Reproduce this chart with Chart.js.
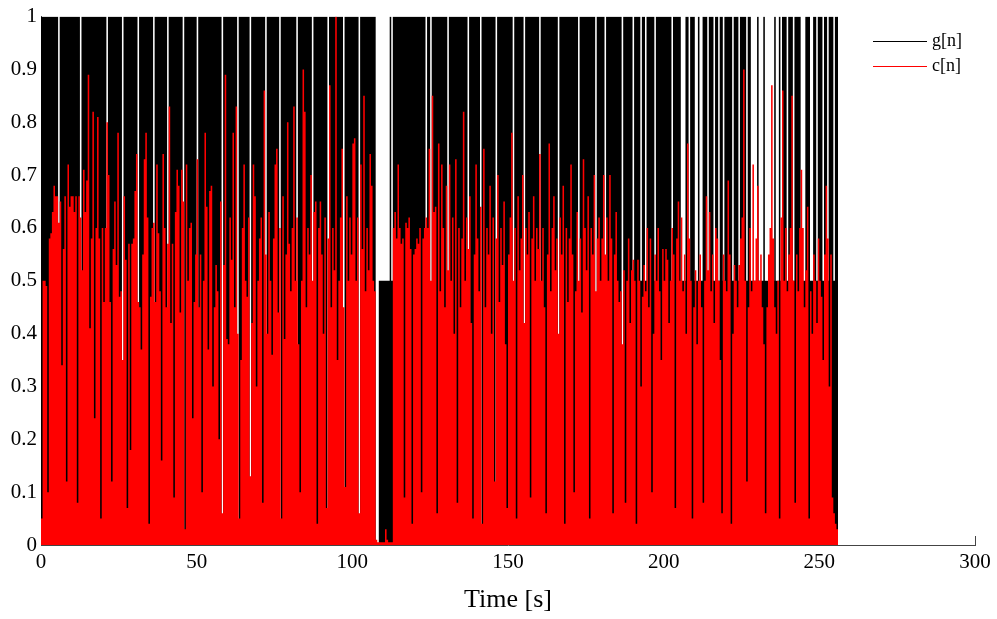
<!DOCTYPE html>
<html>
<head>
<meta charset="utf-8">
<title>g[n] and c[n]</title>
<script src="https://cdn.jsdelivr.net/npm/chart.js@4.4.1/dist/chart.umd.min.js"></script>
<style>
  html, body { margin: 0; padding: 0; background: #fff; }
  #plot { display: block; }
</style>
</head>
<body>
<canvas id="plot" width="997" height="619"></canvas>
<script>
// both signals sampled every 0.5 s
const sampleStep = 0.5;

const xTicks = [0, 50, 100, 150, 200, 250, 300];
const yTicks = [0, 0.1, 0.2, 0.3, 0.4, 0.5, 0.6, 0.7, 0.8, 0.9, 1];

// g[n], one row = 10 s
const gSignal = [
    1,1,1,1,1,1,1,1,1,1,1,0,1,1,1,1,1,1,1,1,
    1,1,1,1,1,0,1,1,1,1,1,1,1,1,1,1,1,1,1,1,
    1,1,0,1,1,1,1,1,1,1,1,1,0,1,1,1,1,1,1,1,
    1,1,0,1,1,1,1,1,1,1,1,1,0,1,1,1,1,1,1,1,
    1,0,1,1,1,1,1,1,1,1,1,0,1,1,1,1,1,1,1,1,
    0,1,1,1,1,1,1,1,1,1,1,1,1,1,1,1,0,1,1,1,
    1,1,1,1,1,1,0,1,1,1,1,1,1,1,0,1,1,1,1,1,
    1,1,1,1,0,1,1,1,1,1,1,1,1,0,1,1,1,1,1,1,
    1,1,1,1,0,1,1,1,1,1,1,1,1,1,0,1,1,1,1,1,
    1,1,1,1,0,1,1,1,1,1,1,1,1,1,0,1,1,1,1,1,
    1,1,1,1,0,1,1,1,1,1,1,1,1,1,1,0,0,0.5,0.5,0.5,
    0.5,0.5,0.5,0.5,1,0.5,1,1,1,1,1,1,1,1,1,1,1,1,1,1,
    1,1,1,1,1,1,1,0,1,1,0,1,1,1,1,1,1,1,1,1,
    1,0,1,1,1,1,1,1,1,1,1,1,1,1,0,1,1,1,1,1,
    1,1,0,1,1,1,1,1,1,1,1,1,0,1,1,1,1,1,1,1,
    1,1,1,0,1,1,1,1,1,1,0,1,1,1,1,1,1,1,1,1,
    0,1,1,1,1,1,1,1,1,1,1,1,0,1,1,1,1,1,1,1,
    1,1,1,1,1,0,1,1,1,1,1,1,1,1,1,1,0,1,1,1,
    1,1,0,1,1,1,1,1,1,1,1,1,1,0,1,1,1,1,1,1,
    0.5,1,1,1,1,0.5,1,1,0.5,1,1,1,1,1,0.5,1,1,1,1,1,
    1,1,1,1,1,0.5,1,1,1,1,1,0.5,0.5,0.5,1,1,0.5,1,1,1,
    0.5,0.5,1,0.5,0.5,1,1,1,0.5,1,1,1,0.5,1,1,0.5,1,1,0.5,1,
    1,1,1,1,0.5,1,1,1,0.5,1,1,1,1,0.5,1,1,0.5,0.5,0.5,0.5,
    1,0.5,0.5,0.5,1,0.5,0.5,0.5,0.5,0.5,0.5,1,0.5,0.5,1,0.5,1,1,1,0.5,
    1,1,1,0.5,1,1,1,1,0.5,0.5,0.5,1,1,1,0.5,0.5,1,1,0.5,1,
    1,1,0.5,1,1,0.5,1,1,1,0.5,1,1,0
];

// c[n], one row = 10 s
const cSignal = [
    0.05,0.50,0.50,0.49,0.10,0.58,0.59,0.63,0.68,0.66,0.66,0.61,0.65,0.34,0.56,0.66,0.12,0.72,0.64,0.66,
    0.66,0.63,0.66,0.08,0.66,0.62,0.52,0.71,0.63,0.69,0.89,0.41,0.58,0.82,0.24,0.60,0.81,0.58,0.05,0.60,
    0.46,0.60,0.80,0.70,0.46,0.12,0.56,0.65,0.53,0.78,0.47,0.48,0.35,0.66,0.54,0.07,0.57,0.18,0.57,0.58,
    0.67,0.74,0.46,0.45,0.37,0.55,0.73,0.78,0.62,0.04,0.47,0.60,0.61,0.46,0.72,0.59,0.48,0.16,0.74,0.60,
    0.45,0.57,0.83,0.42,0.57,0.09,0.63,0.71,0.68,0.44,0.71,0.65,0.03,0.72,0.50,0.60,0.61,0.24,0.46,0.55,
    0.73,0.45,0.55,0.10,0.50,0.78,0.64,0.37,0.67,0.68,0.30,0.45,0.53,0.48,0.20,0.65,0.06,0.53,0.89,0.39,
    0.38,0.62,0.54,0.78,0.45,0.83,0.40,0.05,0.35,0.60,0.72,0.50,0.47,0.62,0.13,0.42,0.72,0.66,0.30,0.50,
    0.58,0.62,0.08,0.86,0.55,0.40,0.63,0.50,0.36,0.58,0.72,0.75,0.44,0.60,0.05,0.66,0.39,0.55,0.80,0.57,
    0.48,0.60,0.83,0.50,0.62,0.38,0.10,0.50,0.90,0.82,0.45,0.60,0.55,0.70,0.50,0.63,0.65,0.04,0.60,0.65,
    0.55,0.40,0.62,0.07,0.58,0.87,0.45,0.60,0.52,1.00,0.35,0.50,0.62,0.75,0.45,0.11,0.66,0.50,0.62,0.55,
    0.76,0.77,0.50,0.62,0.06,0.72,0.56,0.85,0.48,0.60,0.52,0.74,0.68,0.50,0.48,0.01,0.005,0.005,0.005,0.005,
    0.005,0.03,0.01,0.005,0.005,0.005,0.60,0.63,0.58,0.72,0.60,0.57,0.58,0.09,0.61,0.60,0.62,0.56,0.04,0.55,
    0.56,0.58,0.57,0.60,0.10,0.58,0.60,0.62,0.60,0.75,0.50,0.85,0.63,0.64,0.06,0.76,0.48,0.72,0.60,0.45,
    0.68,0.52,0.72,0.50,0.62,0.40,0.73,0.08,0.60,0.45,0.58,0.82,0.50,0.62,0.56,0.66,0.42,0.05,0.55,0.72,
    0.58,0.48,0.64,0.04,0.75,0.45,0.60,0.55,0.68,0.40,0.62,0.12,0.58,0.70,0.46,0.60,0.53,0.65,0.38,0.07,
    0.55,0.62,0.78,0.50,0.60,0.05,0.66,0.52,0.58,0.70,0.42,0.60,0.55,0.63,0.09,0.58,0.66,0.50,0.60,0.56,
    0.74,0.50,0.60,0.45,0.06,0.55,0.76,0.48,0.60,0.66,0.52,0.58,0.40,0.62,0.55,0.68,0.04,0.60,0.46,0.58,
    0.72,0.55,0.10,0.48,0.63,0.50,0.58,0.44,0.73,0.60,0.52,0.66,0.05,0.60,0.55,0.70,0.48,0.58,0.62,0.50,
    0.58,0.70,0.55,0.62,0.50,0.70,0.58,0.06,0.55,0.63,0.50,0.46,0.48,0.38,0.52,0.08,0.50,0.58,0.42,0.52,
    0.54,0.50,0.04,0.54,0.50,0.30,0.47,0.53,0.48,0.60,0.45,0.58,0.10,0.40,0.55,0.50,0.60,0.48,0.35,0.56,
    0.50,0.56,0.54,0.42,0.50,0.60,0.55,0.07,0.58,0.65,0.50,0.62,0.48,0.55,0.40,0.76,0.58,0.50,0.05,0.45,
    0.52,0.38,0.50,0.55,0.45,0.08,0.50,0.66,0.52,0.63,0.48,0.55,0.42,0.60,0.58,0.50,0.35,0.06,0.55,0.50,
    0.48,0.69,0.55,0.04,0.40,0.53,0.50,0.45,0.53,0.58,0.62,0.90,0.50,0.12,0.45,0.60,0.48,0.72,0.50,0.58,
    0.68,0.50,0.55,0.45,0.38,0.06,0.45,0.55,0.60,0.87,0.58,0.45,0.40,0.50,0.05,0.62,0.86,0.50,0.60,0.48,
    0.55,0.60,0.85,0.50,0.08,0.55,0.48,0.60,0.71,0.60,0.45,0.52,0.64,0.05,0.48,0.40,0.55,0.50,0.42,0.58,
    0.50,0.47,0.35,0.55,0.68,0.58,0.30,0.55,0.09,0.06,0.04,0.03,0
];

const seriesNames = ['g[n]', 'c[n]'];
const seriesColors = ['#000000', '#ff0000'];

const serif = '"Liberation Serif", "Times New Roman", serif';
const tickFont = { family: serif, size: 21 };
const titleFont = { family: serif, size: 26 };

function toPoints(values) {
    return values.map((v, i) => ({ x: i * sampleStep, y: v }));
}

// matlab style: short ticks pointing into the plot
const innerTicks = {
    id: 'innerTicks',
    beforeDatasetsDraw(chart) {
        const { ctx, chartArea: area, scales: { x, y } } = chart;
        const len = 9;
        ctx.save();
        ctx.strokeStyle = '#444';
        ctx.lineWidth = 1;
        ctx.beginPath();
        xTicks.forEach(v => {
            const px = Math.round(x.getPixelForValue(v)) + 0.5;
            ctx.moveTo(px, area.bottom);
            ctx.lineTo(px, area.bottom - len);
        });
        yTicks.forEach(v => {
            const py = Math.round(y.getPixelForValue(v)) + 0.5;
            ctx.moveTo(area.left, py);
            ctx.lineTo(area.left + len, py);
        });
        ctx.stroke();
        ctx.restore();
    }
};

// legend: short line then the name, top right inside the axes
const lineLegend = {
    id: 'lineLegend',
    afterDraw(chart) {
        const { ctx, chartArea: area } = chart;
        ctx.save();
        ctx.font = '18px ' + serif;
        ctx.textBaseline = 'middle';
        ctx.textAlign = 'left';
        seriesNames.forEach((name, i) => {
            const y = Math.round(area.top + 24 + i * 25) + 0.5;
            ctx.strokeStyle = seriesColors[i];
            ctx.lineWidth = 1;
            ctx.beginPath();
            ctx.moveTo(area.right - 102, y);
            ctx.lineTo(area.right - 48, y);
            ctx.stroke();
            ctx.fillStyle = '#000';
            ctx.fillText(name, area.right - 43, y);
        });
        ctx.restore();
    }
};

const ctx = document.getElementById('plot').getContext('2d');
const plot = new Chart(ctx, {
    type: 'line',
    data: {
        datasets: [
            {
                label: seriesNames[1],
                data: toPoints(cSignal),
                stepped: true,
                fill: 'origin',
                backgroundColor: seriesColors[1],
                borderColor: seriesColors[1],
                borderWidth: 0,
                pointRadius: 0
            },
            {
                label: seriesNames[0],
                data: toPoints(gSignal),
                stepped: true,
                fill: 'origin',
                backgroundColor: seriesColors[0],
                borderColor: seriesColors[0],
                borderWidth: 0,
                pointRadius: 0
            }
        ]
    },
    options: {
        responsive: false,
        animation: false,
        events: [],
        layout: { padding: { top: 13, right: 22, left: 0, bottom: 0 } },
        plugins: {
            legend: { display: false },
            tooltip: { enabled: false }
        },
        scales: {
            x: {
                type: 'linear',
                min: 0,
                max: 300,
                afterBuildTicks: s => { s.ticks = xTicks.map(v => ({ value: v })); },
                afterFit: s => { s.height = 74; },
                grid: { display: false, drawTicks: false },
                border: { display: true, color: '#444', width: 1 },
                ticks: {
                    color: '#000',
                    font: tickFont,
                    padding: 5,
                    maxRotation: 0,
                    autoSkip: false,
                    callback: v => String(v)
                },
                title: {
                    display: true,
                    text: 'Time [s]',
                    color: '#000',
                    font: titleFont,
                    padding: { top: 0, bottom: 3 }
                }
            },
            y: {
                type: 'linear',
                min: 0,
                max: 1,
                afterBuildTicks: s => { s.ticks = yTicks.map(v => ({ value: v })); },
                afterFit: s => { s.width = 41; },
                grid: { display: false, drawTicks: false },
                border: { display: true, color: '#444', width: 1 },
                ticks: {
                    color: '#000',
                    font: tickFont,
                    padding: 4,
                    autoSkip: false,
                    callback: v => String(Math.round(v * 10) / 10)
                }
            }
        }
    },
    plugins: [innerTicks, lineLegend]
});
</script>
</body>
</html>
